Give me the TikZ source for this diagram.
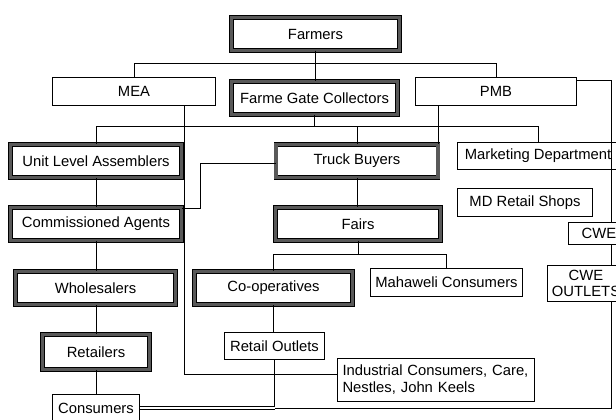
\documentclass[tikz,border=0pt]{standalone}
\usepackage{fontspec}
\setmainfont{Liberation Sans}
\tikzstyle{box} = [rectangle, draw=black, line width=0.8pt, fill=white, inner sep=1pt, minimum height=28pt, text centered]
\tikzstyle{boxH} = [rectangle, draw=black, line width=0.8pt, double=black!65, double distance=3.2pt, fill=white, inner sep=1pt, minimum height=33pt, text centered]
\tikzstyle{conn} = [line width=0.9pt]

\begin{document}
\begin{tikzpicture}[x=1pt, y=-1pt, font=\fontsize{14.8}{17}\selectfont]
\useasboundingbox (0,0) rectangle (616,420);
\node (farmers) [boxH, minimum width=168pt] at (315.5,34) {Farmers};
\node (mea) [box, minimum width=163pt] at (134,91.5) {MEA};
\node (fgc) [boxH, minimum width=166pt] at (314.5,98) {Farme Gate Collectors};
\node (pmb) [box, minimum width=161pt] at (496,91.5) {PMB};
\node (ula) [boxH, minimum width=171pt] at (96,161) {Unit Level Assemblers};
\node (tb) [boxH, minimum width=162pt] at (357,161) {Truck Buyers};
\node (md) [box, minimum width=161pt, minimum height=27pt] at (538,156) {Marketing Department};
\node (mdshops) [box, minimum width=135pt] at (525,202.5) {MD Retail Shops};
\node (ca) [boxH, minimum width=171pt] at (96,224) {Commissioned Agents};
\node (fairs) [boxH, minimum width=165pt] at (358,224) {Fairs};
\node (cwe) [box, minimum width=61pt, minimum height=22pt] at (599,233.5) {CWE};
\node (wholesalers) [boxH, minimum width=160pt] at (95.5,288) {Wholesalers};
\node (coop) [boxH, minimum width=158pt] at (273.5,288) {Co-operatives};
\node (mahaweli) [box, minimum width=152pt] at (446.5,282.5) {Mahaweli Consumers};
\node (cweout) [box, minimum width=77pt, minimum height=36pt, align=center] at (586,283.5) {CWE\\[-1pt]OUTLETS};
\node (retailers) [boxH, minimum width=107pt, minimum height=35pt] at (96,352) {Retailers};
\node (retailout) [box, minimum width=100pt, minimum height=27pt] at (274.5,346) {Retail Outlets};
\node (industrial) [box, text width=187pt, inner sep=5pt, align=left, minimum height=43pt] at (436,380) {Industrial Consumers, Care,\\Nestles, John Keels};
\node (consumers) [box, minimum width=87pt] at (96,408) {Consumers};

\draw [conn] (farmers.south) -- (farmers.south |- fgc.north);
\draw [conn] (farmers.south) -- ++(0,13) -| (mea.north);
\draw [conn] (farmers.south) -- ++(0,13) -| (pmb.north);
\draw [conn] (fgc.south) -- ++(0,12) -| (ula.north);
\draw [conn] (fgc.south) -- ++(0,12) -| (tb.north);
\draw [conn] (fgc.south) -- ++(0,12) -| (md.north);
\draw [conn] ([xshift=23pt]pmb.south west) -- ([xshift=23pt]pmb.south west |- tb.north);
\draw [conn] ([yshift=-3pt]pmb.north east) -| ([xshift=12pt]cwe.north);
\draw [conn] ([xshift=12pt]cwe.south) -- ([xshift=12pt]cwe.south |- cweout.north);
\draw [conn] ([xshift=50pt]mea.south) |- ([yshift=6pt]industrial.west);
\draw [conn] ([yshift=-2pt]tb.west) -- ++(-75,0) |- ([yshift=-1pt]ca.north east);
\draw [conn] (ula.south) -- (ula.south |- ca.north);
\draw [conn] (ca.south) -- (ca.south |- wholesalers.north);
\draw [conn] (ca.south |- wholesalers.south) -- (ca.south |- retailers.north);
\draw [conn] (retailers.south) -- (retailers.south |- consumers.north);
\draw [conn] (tb.south) -- (tb.south |- fairs.north);
\draw [conn] (fairs.south) -- ++(0,14) -| (coop.north);
\draw [conn] (fairs.south) -- ++(0,14) -| (mahaweli.north);
\draw [conn] (coop.south) -- (coop.south |- retailout.north);
\draw [conn] (retailout.south) -- (retailout.south |- consumers.east);
\draw [conn, double, double distance=2pt, line width=0.6pt] (consumers.east) -- (consumers.east -| retailout.south);
\draw [conn] ([xshift=25pt]cweout.south) |- (retailout.south |- consumers.east);

\end{tikzpicture}
\end{document}
